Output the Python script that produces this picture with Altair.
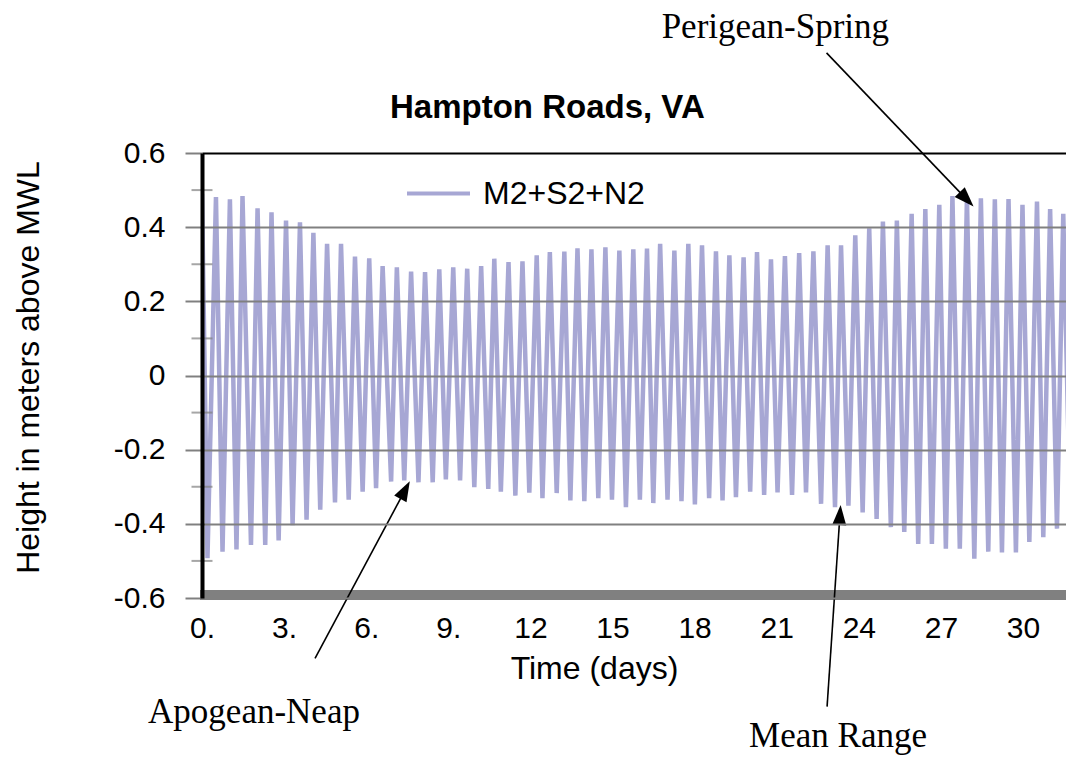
import json
import math
import altair as alt
import pandas as pd

# ---------------- data ----------------
SERIES = "M2+S2+N2"

# high waters: time (days) and height (m)
high_t = [0.00, 0.51, 1.02, 1.48, 2.03, 2.54, 3.07, 3.58, 4.07, 4.57, 5.08, 5.59, 6.11, 6.60, 7.12,
          7.64, 8.15, 8.67, 9.18, 9.69, 10.20, 10.68, 11.20, 11.71, 12.23, 12.71, 13.24, 13.72, 14.23,
          14.74, 15.25, 15.76, 16.26, 16.74, 17.26, 17.77, 18.27, 18.78, 19.27, 19.79, 20.28, 20.79,
          21.30, 21.82, 22.34, 22.86, 23.35, 23.87, 24.38, 24.88, 25.39, 25.93, 26.43, 26.94, 27.42,
          27.95, 28.46, 28.97, 29.47, 29.98, 30.51, 30.99, 31.47]
high_h = [0.490, 0.481, 0.475, 0.484, 0.451, 0.440, 0.418, 0.413, 0.385, 0.355, 0.355, 0.321, 0.316,
          0.295, 0.292, 0.280, 0.279, 0.286, 0.292, 0.288, 0.295,
          0.315, 0.306, 0.308, 0.324, 0.333, 0.334, 0.343, 0.340, 0.346, 0.337, 0.340, 0.342, 0.355,
          0.337, 0.355, 0.351, 0.335, 0.324, 0.319, 0.333, 0.313,
          0.322, 0.330, 0.335, 0.351, 0.351, 0.378, 0.397, 0.415, 0.418, 0.436, 0.449, 0.460, 0.484,
          0.478, 0.478, 0.475, 0.476, 0.460, 0.469, 0.449, 0.436]

# low waters: time (days) and height (m)
low_t = [0.20, 0.75, 1.26, 1.79, 2.31, 2.80, 3.31, 3.82, 4.32, 4.86, 5.36, 5.87, 6.36, 6.91, 7.39,
         7.91, 8.43, 8.91, 9.43, 9.95, 10.46, 10.92, 11.45, 11.96, 12.44, 12.96, 13.46, 13.97, 14.48,
         14.98, 15.49, 16.00, 16.49, 17.01, 17.52, 18.01, 18.53, 19.02, 19.51, 20.03, 20.54, 21.03,
         21.56, 22.07, 22.62, 23.13, 23.62, 24.14, 24.65, 25.17, 25.66, 26.17, 26.67, 27.18, 27.69,
         28.22, 28.73, 29.23, 29.74, 30.23, 30.74, 31.24, 31.73]
low_h = [-0.493, -0.475, -0.469, -0.457, -0.457, -0.445, -0.404, -0.389, -0.362, -0.342, -0.335,
         -0.313, -0.304, -0.286, -0.283, -0.288, -0.288, -0.280, -0.283, -0.301, -0.306,
         -0.313, -0.324, -0.316, -0.331, -0.317, -0.337, -0.339, -0.331, -0.335, -0.355, -0.335,
         -0.344, -0.335, -0.339, -0.348, -0.331, -0.337, -0.328, -0.313, -0.322, -0.315,
         -0.322, -0.315, -0.346, -0.355, -0.351, -0.369, -0.387, -0.409, -0.422, -0.454, -0.454,
         -0.467, -0.467, -0.494, -0.475, -0.477, -0.477, -0.449, -0.436, -0.413, -0.400]

x_tick_values = [0, 3, 6, 9, 12, 15, 18, 21, 24, 27, 30]
x_tick_labels = ["0.", "3.", "6.", "9.", "12", "15", "18", "21", "24", "27", "30"]
y_tick_values = [-0.6, -0.4, -0.2, 0, 0.2, 0.4, 0.6]
y_tick_labels = ["-0.6", "-0.4", "-0.2", "0", "0.2", "0.4", "0.6"]
y_minor_values = [-0.5, -0.3, -0.1, 0.1, 0.3, 0.5]

chart_title = "Hampton Roads, VA"
x_title = "Time (days)"
y_title = "Height in meters above MWL"

# annotations (in data units: days, metres)
ann_text = ["Perigean-Spring", "Apogean-Neap", "Mean Range"]
ann_t = [20.95, 1.90, 23.24]
ann_h = [0.909, -0.938, -1.001]
arrow_t1 = [22.82, 4.13, 22.84]
arrow_h1 = [0.870, -0.763, -0.893]
arrow_t2 = [27.94, 7.42, 23.31]
arrow_h2 = [0.475, -0.309, -0.376]
title_t, title_h = 12.62, 0.694

# ---------------- styling ----------------
SANS = "Liberation Sans"
SERIF = "Liberation Serif"
LINE_COLOR = "#a7a7d4"
GRAY = "#808080"
X_MAX = 31.57
W, H = 864, 445

rows = [{"t": t, "h": h, "s": SERIES} for t, h in zip(high_t, high_h)]
rows += [{"t": t, "h": h, "s": SERIES} for t, h in zip(low_t, low_h)]
df = pd.DataFrame(rows).sort_values("t").reset_index(drop=True)

x_scale = alt.Scale(domain=[0, X_MAX], nice=False, zero=False)
y_scale = alt.Scale(domain=[-0.6, 0.6], nice=False, zero=False)

x_label_expr = f"{json.dumps(x_tick_labels)}[indexof({json.dumps(x_tick_values)}, datum.value)]"
y_label_expr = f"{json.dumps(y_tick_labels)}[indexof({json.dumps(y_tick_values)}, datum.value)]"

x_axis = alt.Axis(
    values=x_tick_values, labelExpr=x_label_expr, grid=False, domain=False,
    ticks=False, tickSize=0, labelPadding=15, labelFlush=False, labelOverlap=False,
    labelFont=SANS, labelFontSize=30,
    labelColor="black", title=x_title, titleFont=SANS, titleFontSize=32,
    titleFontWeight="normal", titleColor="black", titleX=392, titleY=80,
    titleBaseline="alphabetic", titleAlign="center",
)
y_axis = alt.Axis(
    values=y_tick_values, labelExpr=y_label_expr, grid=True,
    gridColor=alt.condition("datum.value > 0.55", alt.value("black"), alt.value(GRAY)),
    gridWidth=2, domain=True, domainColor="black", domainWidth=4,
    ticks=True, tickColor=GRAY, tickWidth=2, tickSize=17, labelPadding=20,
    labelFlush=False, labelOverlap=False,
    labelFont=SANS, labelFontSize=30, labelColor="black",
    title=y_title, titleFont=SANS, titleFontSize=32, titleFontWeight="normal",
    titleColor="black", titleAngle=270, titleX=-164, titleY=214,
    titleBaseline="alphabetic", titleAlign="center", zindex=1,
)


def X(field):
    return alt.X(field, type="quantitative", scale=x_scale, axis=x_axis, title=x_title)


def Y(field):
    return alt.Y(field, type="quantitative", scale=y_scale, axis=y_axis, title=y_title)


legend = alt.Legend(
    title=None, orient="none", legendX=203, legendY=7, symbolType="stroke",
    symbolSize=3969, symbolStrokeWidth=4, labelFont=SANS, labelFontSize=32,
    labelColor="black", labelOffset=11, labelLimit=500, padding=0,
)

line = alt.Chart(df).mark_line(strokeWidth=4.5, strokeJoin="bevel", clip=True).encode(
    x=X("t"),
    y=Y("h"),
    color=alt.Color("s:N", scale=alt.Scale(domain=[SERIES], range=[LINE_COLOR]), legend=legend),
)

minor_df = pd.DataFrame({"t": [0] * len(y_minor_values), "h": y_minor_values})
minor = alt.Chart(minor_df).mark_tick(orient="horizontal", size=21, thickness=2, color=GRAY).encode(
    x=X("t"),
    y=Y("h"),
)

bar = alt.Chart(pd.DataFrame({"h": [-0.6]})).mark_rule(strokeWidth=10, color=GRAY, yOffset=-3).encode(
    y=Y("h"),
    x=alt.value(-2),
    x2=alt.value(W),
)

# arrows
px_day = W / X_MAX
px_m = H / 1.2
arr_rows = []
for t1, h1, t2, h2 in zip(arrow_t1, arrow_h1, arrow_t2, arrow_h2):
    dx = (t2 - t1) * px_day
    dy = -(h2 - h1) * px_m
    th = math.atan2(dx, -dy)
    arr_rows.append({"t": t1, "h": h1, "t2": t2, "h2": h2,
                     "ang": math.degrees(th) % 360,
                     "ox": -10 * math.sin(th), "oy": 10 * math.cos(th)})
arr_df = pd.DataFrame(arr_rows)
head_df = arr_df.drop(columns=["t", "h"]).rename(columns={"t2": "t", "h2": "h"})

shafts = alt.Chart(arr_df).mark_rule(strokeWidth=1.6, color="black").encode(
    x=X("t"),
    y=Y("h"),
    x2="t2:Q", y2="h2:Q",
)
heads = alt.Chart(head_df).mark_point(
    shape="M0,-1L0.7,1L-0.7,1Z", filled=True, size=400, color="black", opacity=1, strokeWidth=0
).encode(
    x=X("t"),
    y=Y("h"),
    angle=alt.Angle("ang:Q", scale=None),
    xOffset=alt.XOffset("ox:Q", scale=None),
    yOffset=alt.YOffset("oy:Q", scale=None),
)

ann_df = pd.DataFrame({"text": ann_text, "t": ann_t, "h": ann_h})
labels = alt.Chart(ann_df).mark_text(
    font=SERIF, fontSize=35, align="center", baseline="alphabetic", color="black"
).encode(
    x=X("t"),
    y=Y("h"),
    text="text:N",
)

title_df = pd.DataFrame({"text": [chart_title], "t": [title_t], "h": [title_h]})
title = alt.Chart(title_df).mark_text(
    font=SANS, fontSize=33, fontWeight="bold", align="center", baseline="alphabetic", color="black"
).encode(
    x=X("t"),
    y=Y("h"),
    text="text:N",
)

chart = alt.layer(line, minor, bar, shafts, heads, labels, title).properties(
    width=W, height=H,
    padding={"left": 202, "top": 153, "right": 0, "bottom": 159},
    autosize=alt.AutoSizeParams(type="none"),
    background="white",
).configure_view(stroke=None)

chart.save("out.html", embed_options={"renderer": "svg", "actions": False})
